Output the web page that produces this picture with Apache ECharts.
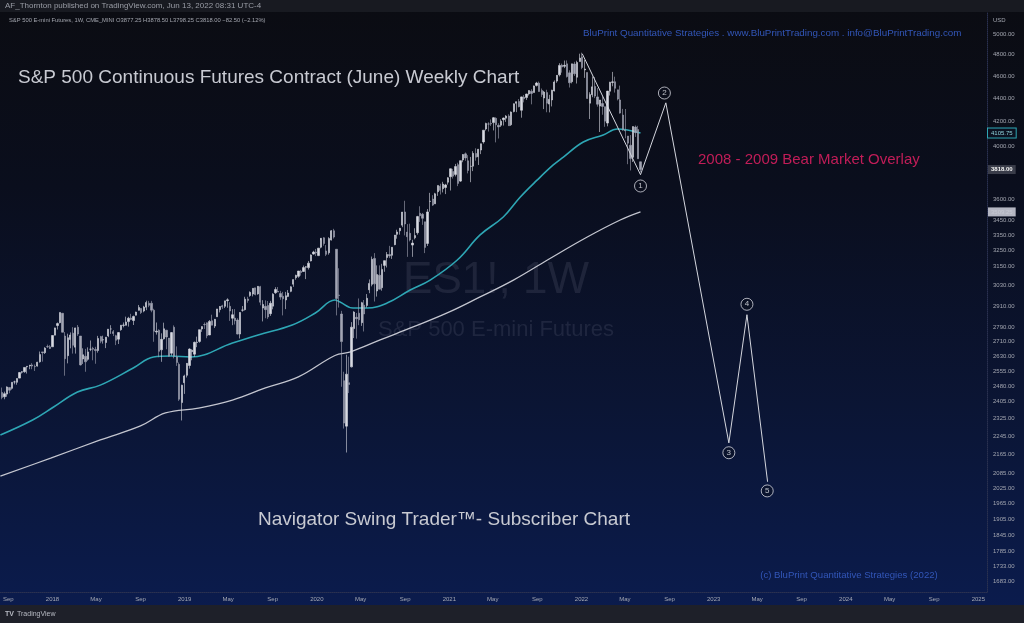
<!DOCTYPE html>
<html><head><meta charset="utf-8">
<script src="https://cdn.jsdelivr.net/npm/echarts@6/dist/echarts.min.js"></script>
<style>html,body{margin:0;padding:0;background:#0b0d14}#c{width:1024px;height:623px}</style>
</head><body><div id="c"></div><script>
// weekly bars: [week, open, high, low, close]
const bars2017 = [
['2017-08-07',2476,2491,2437,2441],['2017-08-14',2450,2474,2417,2426],['2017-08-21',2429,2454,2417,2444],['2017-08-28',2442,2480,2429,2477],
['2017-09-04',2474,2474,2446,2461],['2017-09-11',2470,2500,2464,2500],['2017-09-18',2502,2508,2490,2502],['2017-09-25',2500,2520,2488,2519],
['2017-10-02',2521,2552,2520,2549],['2017-10-09',2551,2556,2544,2553],['2017-10-16',2553,2576,2548,2575],['2017-10-23',2578,2582,2544,2581],['2017-10-30',2583,2588,2566,2587],
['2017-11-06',2588,2597,2566,2582],['2017-11-13',2580,2590,2557,2579],['2017-11-20',2582,2604,2579,2602],['2017-11-27',2604,2658,2600,2642],
['2017-12-04',2656,2656,2605,2652],['2017-12-11',2652,2681,2645,2676],['2017-12-18',2684,2695,2677,2683],['2017-12-25',2683,2692,2671,2674]];
const bars2018 = [
['2018-01-01',2683,2746,2682,2744],['2018-01-08',2746,2787,2745,2786],['2018-01-15',2799,2816,2777,2810],['2018-01-22',2815,2873,2811,2873],['2018-01-29',2868,2870,2763,2762],
['2018-02-05',2741,2763,2533,2620],['2018-02-12',2636,2754,2596,2732],['2018-02-19',2722,2761,2675,2747],['2018-02-26',2757,2790,2647,2691],
['2018-03-05',2681,2787,2647,2786],['2018-03-12',2790,2802,2742,2752],['2018-03-19',2741,2741,2585,2588],['2018-03-26',2619,2675,2593,2641],
['2018-04-02',2633,2672,2553,2604],['2018-04-09',2617,2680,2610,2656],['2018-04-16',2670,2717,2660,2670],['2018-04-23',2675,2683,2612,2670],['2018-04-30',2669,2683,2594,2663],
['2018-05-07',2663,2742,2652,2728],['2018-05-14',2738,2742,2702,2713],['2018-05-21',2720,2743,2700,2721],['2018-05-28',2706,2736,2676,2735],
['2018-06-04',2742,2779,2735,2779],['2018-06-11',2780,2801,2753,2780],['2018-06-18',2765,2774,2741,2755],['2018-06-25',2743,2748,2692,2718],
['2018-07-02',2724,2763,2698,2760],['2018-07-09',2776,2802,2770,2801],['2018-07-16',2800,2816,2789,2802],['2018-07-23',2800,2849,2800,2819],['2018-07-30',2821,2848,2793,2840],
['2018-08-06',2841,2865,2829,2833],['2018-08-13',2827,2855,2802,2850],['2018-08-20',2857,2877,2856,2875],['2018-08-27',2885,2916,2884,2902],
['2018-09-03',2896,2898,2864,2872],['2018-09-10',2881,2911,2874,2904],['2018-09-17',2903,2941,2886,2930],['2018-09-24',2926,2940,2903,2914],
['2018-10-01',2926,2940,2874,2886],['2018-10-08',2886,2894,2710,2767],['2018-10-15',2763,2816,2749,2768],['2018-10-22',2773,2778,2628,2659],['2018-10-29',2667,2756,2604,2723],
['2018-11-05',2726,2815,2722,2781],['2018-11-12',2773,2775,2670,2736],['2018-11-19',2730,2730,2631,2633],['2018-11-26',2649,2763,2636,2760],
['2018-12-03',2790,2800,2622,2633],['2018-12-10',2630,2685,2583,2600],['2018-12-17',2591,2601,2409,2417],['2018-12-24',2401,2488,2317,2486],['2018-12-31',2498,2538,2443,2532]];
const bars2019 = [
['2019-01-07',2535,2598,2524,2596],['2019-01-14',2585,2675,2569,2671],['2019-01-21',2657,2670,2612,2665],['2019-01-28',2644,2711,2631,2707],
['2019-02-04',2706,2738,2681,2708],['2019-02-11',2712,2776,2705,2776],['2019-02-18',2780,2795,2764,2793],['2019-02-25',2805,2816,2780,2804],
['2019-03-04',2814,2816,2729,2743],['2019-03-11',2747,2830,2746,2822],['2019-03-18',2826,2860,2800,2801],['2019-03-25',2796,2836,2785,2834],
['2019-04-01',2848,2893,2848,2893],['2019-04-08',2889,2910,2873,2907],['2019-04-15',2911,2917,2893,2905],['2019-04-22',2908,2940,2898,2940],['2019-04-29',2941,2955,2900,2946],
['2019-05-06',2908,2932,2825,2881],['2019-05-13',2840,2892,2801,2860],['2019-05-20',2841,2892,2805,2826],['2019-05-27',2830,2840,2750,2752],
['2019-06-03',2752,2875,2728,2873],['2019-06-10',2886,2910,2877,2887],['2019-06-17',2889,2964,2884,2950],['2019-06-24',2951,2964,2929,2942],
['2019-07-01',2971,2996,2964,2990],['2019-07-08',2980,3014,2966,3014],['2019-07-15',3017,3017,2972,2977],['2019-07-22',2981,3028,2976,3026],['2019-07-29',3024,3029,2914,2932],
['2019-08-05',2898,2944,2822,2919],['2019-08-12',2908,2943,2840,2889],['2019-08-19',2913,2939,2836,2847],['2019-08-26',2866,2940,2853,2926],
['2019-09-02',2909,2985,2891,2979],['2019-09-09',2988,3021,2981,3007],['2019-09-16',2996,3022,2993,2992],['2019-09-23',2983,2999,2946,2962],['2019-09-30',2967,2993,2856,2952],
['2019-10-07',2945,2993,2892,2970],['2019-10-14',2966,3004,2962,2986],['2019-10-21',2996,3027,2991,3023],['2019-10-28',3039,3066,3023,3067],
['2019-11-04',3078,3097,3066,3093],['2019-11-11',3087,3120,3078,3120],['2019-11-18',3118,3127,3091,3110],['2019-11-25',3117,3154,3115,3141],
['2019-12-02',3144,3150,3070,3146],['2019-12-09',3141,3183,3129,3169],['2019-12-16',3183,3225,3180,3221],['2019-12-23',3227,3248,3223,3240],['2019-12-30',3240,3260,3214,3235]];
const bars2020 = [
['2020-01-06',3217,3267,3214,3265],['2020-01-13',3271,3316,3264,3330],['2020-01-20',3333,3337,3281,3295],['2020-01-27',3247,3285,3214,3225],
['2020-02-03',3235,3337,3223,3328],['2020-02-10',3318,3385,3315,3380],['2020-02-17',3380,3393,3328,3338],['2020-02-24',3258,3259,2856,2954],
['2020-03-02',2974,3137,2901,2972],['2020-03-09',2864,2882,2478,2711],['2020-03-16',2508,2553,2280,2305],['2020-03-23',2291,2641,2174,2541],['2020-03-30',2498,2631,2447,2489],
['2020-04-06',2578,2818,2575,2790],['2020-04-13',2782,2880,2730,2875],['2020-04-20',2845,2870,2727,2837],['2020-04-27',2869,2954,2801,2831],
['2020-05-04',2815,2934,2797,2929],['2020-05-11',2915,2945,2766,2864],['2020-05-18',2913,2980,2901,2955],['2020-05-25',3005,3068,2985,3044],
['2020-06-01',3038,3211,3026,3193],['2020-06-08',3199,3233,2936,3041],['2020-06-15',2998,3155,2965,3098],['2020-06-22',3094,3155,3008,3009],['2020-06-29',3018,3165,3000,3130],
['2020-07-06',3155,3186,3115,3185],['2020-07-13',3205,3240,3142,3224],['2020-07-20',3224,3280,3201,3215],['2020-07-27',3219,3272,3196,3271],
['2020-08-03',3288,3352,3284,3351],['2020-08-10',3356,3387,3327,3372],['2020-08-17',3380,3399,3354,3397],['2020-08-24',3418,3509,3404,3508],['2020-08-31',3509,3588,3349,3426],
['2020-09-07',3371,3425,3209,3340],['2020-09-14',3363,3428,3309,3319],['2020-09-21',3285,3320,3209,3298],['2020-09-28',3333,3397,3323,3348],
['2020-10-05',3367,3482,3354,3477],['2020-10-12',3500,3549,3440,3483],['2020-10-19',3493,3502,3420,3465],['2020-10-26',3441,3441,3233,3270],
['2020-11-02',3296,3529,3279,3509],['2020-11-09',3583,3645,3511,3585],['2020-11-16',3600,3628,3551,3557],['2020-11-23',3566,3645,3566,3638],['2020-11-30',3653,3699,3623,3699],
['2020-12-07',3694,3712,3633,3663],['2020-12-14',3675,3726,3648,3709],['2020-12-21',3684,3711,3636,3703],['2020-12-28',3723,3760,3705,3756]];
const bars2021 = [
['2021-01-04',3764,3826,3662,3824],['2021-01-11',3803,3823,3750,3768],['2021-01-18',3781,3861,3766,3841],['2021-01-25',3855,3870,3694,3714],
['2021-02-01',3731,3888,3725,3886],['2021-02-08',3892,3937,3874,3934],['2021-02-15',3939,3950,3885,3907],['2021-02-22',3885,3929,3789,3811],
['2021-03-01',3842,3915,3723,3843],['2021-03-08',3844,3960,3806,3943],['2021-03-15',3942,3983,3886,3913],['2021-03-22',3916,3978,3853,3975],['2021-03-29',3969,4020,3937,4019],
['2021-04-05',4034,4130,4020,4129],['2021-04-12',4139,4191,4126,4185],['2021-04-19',4180,4195,4118,4180],['2021-04-26',4185,4218,4164,4181],
['2021-05-03',4192,4238,4127,4233],['2021-05-10',4228,4236,4030,4174],['2021-05-17',4169,4187,4061,4156],['2021-05-24',4170,4220,4156,4204],['2021-05-31',4216,4234,4167,4230],
['2021-06-07',4229,4255,4198,4247],['2021-06-14',4248,4262,4164,4166],['2021-06-21',4174,4286,4164,4281],['2021-06-28',4285,4355,4278,4352],
['2021-07-05',4356,4372,4280,4370],['2021-07-12',4372,4393,4321,4327],['2021-07-19',4296,4415,4233,4412],['2021-07-26',4410,4429,4364,4395],
['2021-08-02',4406,4440,4385,4437],['2021-08-09',4438,4470,4424,4468],['2021-08-16',4462,4480,4347,4442],['2021-08-23',4450,4513,4450,4509],['2021-08-30',4514,4546,4504,4535],
['2021-09-06',4535,4549,4458,4459],['2021-09-13',4469,4486,4412,4433],['2021-09-20',4402,4465,4306,4455],['2021-09-27',4450,4475,4279,4357],
['2021-10-04',4349,4430,4278,4391],['2021-10-11',4385,4475,4329,4471],['2021-10-18',4464,4559,4460,4545],['2021-10-25',4553,4608,4538,4605],
['2021-11-01',4610,4718,4595,4697],['2021-11-08',4701,4714,4630,4682],['2021-11-15',4689,4743,4672,4698],['2021-11-22',4712,4744,4585,4594],['2021-11-29',4628,4652,4495,4538],
['2021-12-06',4548,4713,4532,4712],['2021-12-13',4710,4731,4600,4620],['2021-12-20',4588,4741,4531,4725],['2021-12-27',4733,4808,4733,4766]];
const bars2022 = [
['2022-01-03',4778,4818,4662,4677],['2022-01-10',4655,4748,4582,4663],['2022-01-17',4632,4632,4395,4398],['2022-01-24',4357,4453,4222,4432],['2022-01-31',4431,4595,4409,4501],
['2022-02-07',4505,4590,4401,4419],['2022-02-14',4412,4490,4327,4348],['2022-02-21',4332,4385,4114,4385],['2022-02-28',4354,4416,4258,4329],
['2022-03-07',4327,4327,4157,4204],['2022-03-14',4188,4465,4161,4463],['2022-03-21',4462,4546,4424,4543],['2022-03-28',4541,4637,4506,4546],
['2022-04-04',4547,4593,4450,4488],['2022-04-11',4474,4471,4381,4393],['2022-04-18',4385,4512,4267,4272],['2022-04-25',4255,4308,4124,4132],
['2022-05-02',4130,4307,4063,4124],['2022-05-09',4081,4082,3859,4024],['2022-05-16',4007,4089,3811,3902],['2022-05-23',3912,4160,3876,4159],['2022-05-30',4155,4168,4074,4109],
['2022-06-06',4134,4165,3901,3901],['2022-06-13',3877.25,3878.5,3798.25,3818]];

// moving averages
const maTeal = [['2017-08-10',2251],['2017-11-07',2319],['2018-01-04',2380],['2018-03-11',2452],['2018-05-13',2486],['2018-08-12',2572],['2018-10-07',2629],['2018-11-22',2634],['2019-01-17',2629],['2019-05-13',2703],['2019-07-23',2747],['2019-10-25',2802],['2019-12-28',2870],['2020-02-20',2945],['2020-03-05',2933],['2020-04-10',2898],['2020-05-19',2898],['2020-07-13',2927],['2020-09-15',3004],['2020-11-09',3064],['2021-01-23',3189],['2021-03-27',3352],['2021-05-30',3474],['2021-07-16',3615],['2021-09-01',3740],['2021-10-15',3853],['2021-11-12',3914],['2022-01-06',4033],['2022-03-02',4090],['2022-04-10',4139],['2022-05-08',4131],['2022-06-13',4106]];
const maWhite = [['2017-08-10',2074],['2017-12-27',2150],['2018-05-13',2229],['2018-09-01',2292],['2018-11-09',2352],['2019-02-08',2375],['2019-05-13',2413],['2019-08-12',2472],['2019-11-11',2527],['2020-02-20',2637],['2020-04-03',2656],['2020-06-24',2720],['2020-09-23',2791],['2020-12-26',2870],['2021-03-27',2963],['2021-06-27',3064],['2021-09-29',3189],['2022-01-17',3338],['2022-04-18',3453],['2022-06-13',3509]];

// 2008-2009 overlay projection and wave labels
const projection = [['2022-01-03',4808],['2022-06-13',3779],['2022-08-22',4360],['2023-02-12',2216],['2023-04-03',2860],['2023-05-30',2051]];
const waveLabels = [['2022-06-13',3695,'1'],['2022-08-18',4446,'2'],['2023-02-12',2173,'3'],['2023-04-03',2920,'4'],['2023-05-29',2014,'5']];

const yTicks = [5000,4800,4600,4400,4200,4000,3600,3450,3350,3250,3150,3030,2910,2790,2710,2630,2555,2480,2405,2325,2245,2165,2085,2025,1965,1905,1845,1785,1733,1683];
const xTicks = ['2017-09-01','2018-01-01','2018-05-01','2018-09-01','2019-01-01','2019-05-01','2019-09-01','2020-01-01','2020-05-01','2020-09-01','2021-01-01','2021-05-01','2021-09-01','2022-01-01','2022-05-01','2022-09-01','2023-01-01','2023-05-01','2023-09-01','2024-01-01','2024-05-01','2024-09-01','2025-01-01'];
const priceTags = [4105.75, 3818.00, 3509.25];

const T = s => Date.parse(s + 'T00:00:00Z');
const weeklyBars = [].concat(bars2017,bars2018,bars2019,bars2020,bars2021,bars2022);
const candleData = weeklyBars.map(r => [T(r[0]), r[1], r[4], r[3], r[2]]);
const tsPairs = arr => arr.map(r => [T(r[0]), r[1]]);

const FONT = 'Liberation Sans';
const chart = echarts.init(document.getElementById('c'), null, {renderer:'canvas'});
const bg = new echarts.graphic.LinearGradient(0,0,0,1,[
  {offset:0,color:'#0b0c12'},{offset:0.3,color:'#0a0e1d'},{offset:0.65,color:'#0b1534'},{offset:1,color:'#0b1c4f'}]);

const tagStyles = [
  {backgroundColor:'#0c1120', borderColor:'#2ea6b4', borderWidth:1, color:'#8fd3dc', fontWeight:'normal'},
  {backgroundColor:'#3a3d4a', borderColor:'#3a3d4a', borderWidth:0, color:'#f2f2f2', fontWeight:'bold'},
  {backgroundColor:'#b4b6c2', borderColor:'#b4b6c2', borderWidth:0, color:'#c6c8d2', fontWeight:'normal'}];

const option = {
  animation:false,
  backgroundColor:'transparent',
  grid:{left:0, right:37, top:12, bottom:31, containLabel:false},
  xAxis:{type:'value', min:T('2017-08-10'), max:T('2025-01-25'), scale:true,
    axisLine:{show:true, lineStyle:{color:'#2a3150', type:'dotted'}},
    axisTick:{show:false}, splitLine:{show:false},
    axisLabel:{customValues:xTicks.map(T), margin:4, color:'#a6a9b3', fontSize:6, fontFamily:FONT,
      formatter:function(v){const d=new Date(v);const m=d.getUTCMonth();return m===0?String(d.getUTCFullYear()):(m===4?'May':'Sep');},
      hideOverlap:false}},
  yAxis:{type:'log', logBase:10, min:1647, max:5224, position:'right',
    axisLine:{show:true, lineStyle:{color:'#2a3150', type:'dotted'}},
    axisTick:{show:false}, splitLine:{show:false},
    axisLabel:{customValues:yTicks, margin:6, color:'#a3a6b0', fontSize:6, fontFamily:FONT, align:'left',
      formatter:function(v){return Number(v).toFixed(2);}}},
  series:[
    {type:'line', name:'MA white', data:tsPairs(maWhite), smooth:0.4, symbol:'none', z:3,
      lineStyle:{color:'#c3c5cf', width:1.3}},
    {type:'line', name:'MA teal', data:tsPairs(maTeal), smooth:0.4, symbol:'none', z:3,
      lineStyle:{color:'#2ea6b4', width:1.6}},
    {type:'candlestick', name:'ES1!', data:candleData, encode:{x:0, y:[1,2,3,4]}, barWidth:1.8, z:4,
      itemStyle:{color:'#d8dae2', color0:'#a2a5b3', borderColor:'#d8dae2', borderColor0:'#a2a5b3', borderWidth:0.6}},
    {type:'line', name:'overlay', data:tsPairs(projection), symbol:'none', z:5, clip:false,
      lineStyle:{color:'#d4d6de', width:1},
      markLine:{silent:true, symbol:['none','none'], animation:false, precision:2,
        lineStyle:{color:'rgba(0,0,0,0)', width:1},
        data: priceTags.map((v,i)=>({yAxis:v, label:Object.assign({show:true, position:'end', distance:1,
          formatter:v.toFixed(2), fontSize:6, fontFamily:FONT, padding:[2,3,1,3]}, tagStyles[i])}))}},
    {type:'scatter', name:'waves', data:waveLabels.map(r=>[T(r[0]), r[1], r[2]]), symbol:'circle', symbolSize:12, z:6,
      itemStyle:{color:'rgba(10,14,30,0.6)', borderColor:'#d4d6de', borderWidth:1},
      label:{show:true, position:'inside', formatter:p=>p.data[2], color:'#e6e8ee', fontSize:8, fontFamily:FONT}}
  ],
  graphic:[
    {type:'rect', z:-100, silent:true, shape:{x:0,y:0,width:1024,height:623}, style:{fill:bg}},
    {type:'rect', z:-99, silent:true, shape:{x:0,y:0,width:1024,height:12}, style:{fill:'#181a21'}},
    {type:'rect', z:-99, silent:true, shape:{x:0,y:605,width:1024,height:18}, style:{fill:'#1e2029'}},
    {type:'text', z:1, x:496, y:281, style:{text:'ES1!, 1W', fill:'rgba(120,126,150,0.18)', font:'44px "Liberation Sans"', align:'center', verticalAlign:'middle'}},
    {type:'text', z:1, x:496, y:330, style:{text:'S&P 500 E-mini Futures', fill:'rgba(120,126,150,0.18)', font:'22px "Liberation Sans"', align:'center', verticalAlign:'middle'}},
    {type:'text', z:100, x:5, y:6, style:{text:'AF_Thornton published on TradingView.com, Jun 13, 2022 08:31 UTC-4', fill:'#9a9da6', font:'8px "Liberation Sans"', align:'left', verticalAlign:'middle'}},
    {type:'text', z:100, x:9, y:20, style:{text:'S&P 500 E-mini Futures, 1W, CME_MINI O3877.25 H3878.50 L3798.25 C3818.00 \u221282.50 (\u22122.12%)', fill:'#a3a6af', font:'5.8px "Liberation Sans"', align:'left', verticalAlign:'middle'}},
    {type:'text', z:100, x:18, y:78, style:{text:'S&P 500 Continuous Futures Contract (June) Weekly Chart', fill:'#c8cad2', font:'19px "Liberation Sans"', align:'left', verticalAlign:'middle'}},
    {type:'text', z:100, x:583, y:33, style:{text:'BluPrint Quantitative Strategies . www.BluPrintTrading.com . info@BluPrintTrading.com', fill:'#3256b8', font:'9.8px "Liberation Sans"', align:'left', verticalAlign:'middle'}},
    {type:'text', z:100, x:698, y:160, style:{text:'2008 - 2009 Bear Market Overlay', fill:'#c21d58', font:'15px "Liberation Sans"', align:'left', verticalAlign:'middle'}},
    {type:'text', z:100, x:444, y:520, style:{text:'Navigator Swing Trader\u2122- Subscriber Chart', fill:'#c8cad2', font:'19px "Liberation Sans"', align:'center', verticalAlign:'middle'}},
    {type:'text', z:100, x:849, y:575, style:{text:'(c) BluPrint Quantitative Strategies (2022)', fill:'#3256b8', font:'9.6px "Liberation Sans"', align:'center', verticalAlign:'middle'}},
    {type:'text', z:100, x:993, y:20, style:{text:'USD', fill:'#a3a6b0', font:'6px "Liberation Sans"', align:'left', verticalAlign:'middle'}},
    {type:'text', z:100, x:5, y:614, style:{text:'TV', fill:'#b7bac3', font:'bold 7px "Liberation Sans"', align:'left', verticalAlign:'middle'}},
    {type:'text', z:100, x:17, y:614, style:{text:'TradingView', fill:'#b7bac3', font:'7px "Liberation Sans"', align:'left', verticalAlign:'middle'}}
  ]
};
chart.setOption(option);
</script></body></html>
